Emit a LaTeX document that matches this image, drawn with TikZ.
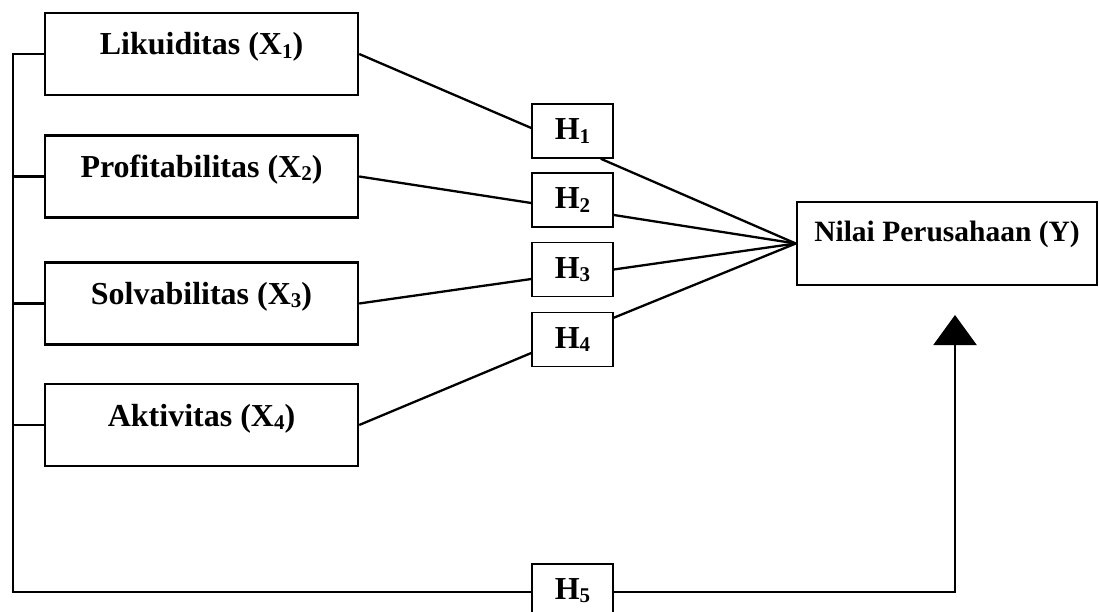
\documentclass[tikz,border=0pt]{standalone}
\usepackage{fontspec}
\setmainfont{Liberation Serif}
\usetikzlibrary{arrows.meta}
\newcommand{\sbs}[1]{\raisebox{-0.1em}{\fontsize{21}{21}\selectfont #1}}
\begin{document}
\begin{tikzpicture}[x=1pt,y=-1pt,
  every node/.style={font=\bfseries\fontsize{32}{38}\selectfont},
  xbox/.style={draw, line width=2.4pt, minimum width=313pt, minimum height=82pt, inner sep=0pt},
  hbox/.style={draw, line width=1.5pt, fill=white, minimum width=81pt, minimum height=54pt, inner sep=0pt},
  lbl/.style={anchor=base, inner sep=0pt},
  conn/.style={line width=2.3pt}]
\useasboundingbox (0,0) rectangle (1099,612);

% variable boxes
\node[xbox] (x1) at (201.5,54) {};
\node[lbl] (x1t) at ([yshift=-1pt]x1.center) {Likuiditas (X\sbs{1})};
\node[xbox] (x2) at (201.5,176.5) {};
\node[lbl] (x2t) at ([yshift=-1pt]x2.center) {Profitabilitas (X\sbs{2})};
\node[xbox] (x3) at (201.5,303.5) {};
\node[lbl] (x3t) at ([yshift=-1pt]x3.center) {Solvabilitas (X\sbs{3})};
\node[xbox] (x4) at (201.5,425) {};
\node[lbl] (x4t) at ([yshift=-1pt]x4.center) {Aktivitas (X\sbs{4})};

\node[xbox, minimum width=300pt, minimum height=83pt] (y) at (947,243.5) {};
\node[lbl, font=\bfseries\fontsize{29.5}{35}\selectfont] (yt) at ([yshift=2.5pt]y.center) {Nilai Perusahaan (Y)};

% hypothesis boxes
\node[hbox] (h1) at (572.5,131) {H\sbs{1}};
\node[hbox] (h2) at (572.5,200) {H\sbs{2}};
\node[hbox] (h3) at (572.5,269.5) {H\sbs{3}};
\node[hbox] (h4) at (572.5,339.5) {H\sbs{4}};
\node[hbox] (h5) at (572.5,591) {H\sbs{5}};

% bus line
\coordinate (tl) at (13,53);
\coordinate (bl) at (13,592);
\coordinate (br) at (955,592);
\coordinate (tip) at (955,315);

\draw[conn] (x1.west) -- (x1.west -| tl) -- (bl) -- (h5.west |- bl);
\draw[conn] (x2.west) -- (x2.west -| tl);
\draw[conn] (x3.west) -- (x3.west -| tl);
\draw[conn] (x4.west) -- (x4.west -| tl);
\draw[conn, -{Triangle[width=43pt,length=30pt]}] (h5.east |- bl) -- (br) -- (tip);

% X -> H
\draw[conn] (x1.east) -- ([yshift=3pt]h1.west);
\draw[conn] (x2.east) -- ([yshift=-3pt]h2.west);
\draw[conn] (x3.east) -- ([yshift=-9.5pt]h3.west);
\draw[conn] (x4.east) -- ([yshift=-13.5pt]h4.west);

% H -> Y
\draw[conn] ([xshift=-13pt]h1.south east) -- (y.west);
\draw[conn] ([yshift=-15pt]h2.east) -- (y.west);
\draw[conn] (h3.east) -- (y.west);
\draw[conn] ([yshift=-6pt]h4.north east) -- (y.west);
\end{tikzpicture}
\end{document}
